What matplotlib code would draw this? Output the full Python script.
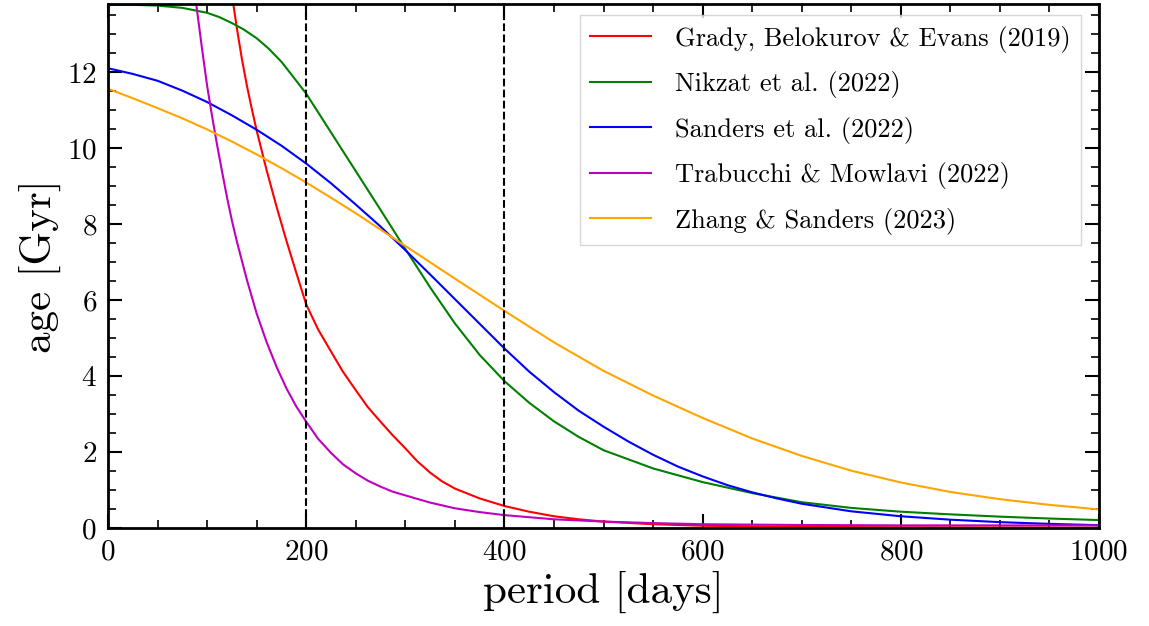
import matplotlib
matplotlib.use("Agg")
import matplotlib.pyplot as plt
from matplotlib.ticker import MultipleLocator

plt.rcParams["font.family"] = "serif"
plt.rcParams["font.serif"] = ["cmr10"]
plt.rcParams["mathtext.fontset"] = "cm"
plt.rcParams["axes.formatter.use_mathtext"] = True

# values (period in days, age in Gyr)
grady_period = [120, 125, 130, 135, 140, 145, 150, 160, 170, 180, 190, 200, 212, 225, 237,
                250, 262, 275, 287, 300, 312, 325, 337, 350, 375, 400, 425, 450, 475, 500,
                550, 600, 700, 800, 1000]
grady_age = [15.0, 14.05, 13.17, 12.37, 11.67, 11.05, 10.47, 9.43, 8.47, 7.57, 6.72, 5.89, 5.23,
             4.65, 4.12, 3.63, 3.19, 2.80, 2.45, 2.10, 1.76, 1.46, 1.23, 1.04, 0.78, 0.58, 0.43,
             0.31, 0.23, 0.17, 0.10, 0.06, 0.03, 0.02, 0.01]

nikzat_period = [0, 25, 50, 75, 100, 112, 125, 137, 150, 162, 175, 187, 200, 225, 250, 275,
                 300, 325, 350, 375, 400, 425, 450, 475, 500, 550, 600, 650, 700, 750, 800,
                 850, 900, 950, 1000]
nikzat_age = [13.78, 13.78, 13.76, 13.70, 13.57, 13.46, 13.30, 13.13, 12.90, 12.63, 12.28, 11.88,
              11.44, 10.42, 9.40, 8.38, 7.35, 6.34, 5.39, 4.56, 3.87, 3.30, 2.81, 2.40, 2.05,
              1.57, 1.21, 0.92, 0.68, 0.53, 0.43, 0.36, 0.30, 0.25, 0.21]

sanders_period = [0, 25, 50, 75, 100, 125, 150, 175, 200, 225, 250, 275, 300, 325, 350, 375,
                  400, 425, 450, 475, 500, 525, 550, 575, 600, 625, 650, 675, 700, 750, 800,
                  850, 900, 950, 1000]
sanders_age = [12.11, 11.96, 11.78, 11.52, 11.22, 10.87, 10.49, 10.07, 9.60, 9.08, 8.52, 7.94,
               7.32, 6.68, 6.03, 5.38, 4.73, 4.12, 3.58, 3.09, 2.67, 2.28, 1.93, 1.62, 1.36,
               1.13, 0.94, 0.78, 0.64, 0.44, 0.31, 0.22, 0.155, 0.11, 0.075]

trabucchi_period = [80, 85, 90, 95, 100, 105, 110, 115, 120, 125, 130, 140, 150, 160, 170, 180,
                    190, 200, 212, 225, 237, 250, 262, 275, 287, 300, 325, 350, 375, 400, 450,
                    500, 550, 600, 700, 800, 1000]
trabucchi_age = [15.6, 14.6, 13.6, 12.6, 11.65, 10.85, 10.1, 9.4, 8.72, 8.1, 7.55, 6.55, 5.65,
                 4.90, 4.25, 3.68, 3.20, 2.80, 2.35, 1.98, 1.68, 1.44, 1.25, 1.09, 0.96, 0.86,
                 0.67, 0.52, 0.42, 0.34, 0.23, 0.17, 0.13, 0.10, 0.08, 0.07, 0.07]

zhang_period = [0, 25, 50, 75, 100, 125, 150, 175, 200, 225, 250, 275, 300, 350, 400, 450,
                500, 550, 600, 650, 700, 750, 800, 850, 900, 950, 1000]
zhang_age = [11.57, 11.32, 11.06, 10.79, 10.50, 10.18, 9.84, 9.48, 9.10, 8.70, 8.29, 7.86, 7.43,
             6.57, 5.72, 4.89, 4.14, 3.49, 2.90, 2.36, 1.90, 1.51, 1.20, 0.95, 0.76, 0.61, 0.49]

vlines = [200, 400]

fig = plt.figure(figsize=(11.49, 6.26), dpi=100)
ax = fig.add_axes([0.094, 0.1565, 0.8625, 0.837])

ax.plot(grady_period, grady_age, color="red", lw=1.5, label="Grady, Belokurov & Evans (2019)")
ax.plot(nikzat_period, nikzat_age, color="green", lw=1.5, label="Nikzat et al. (2022)")
ax.plot(sanders_period, sanders_age, color="blue", lw=1.5, label="Sanders et al. (2022)")
ax.plot(trabucchi_period, trabucchi_age, color="m", lw=1.5, label="Trabucchi & Mowlavi (2022)")
ax.plot(zhang_period, zhang_age, color="orange", lw=1.5, label="Zhang & Sanders (2023)")
for v in vlines:
    ax.axvline(v, color="k", ls="--", lw=1.5)

ax.set_xlim(0, 1000)
ax.set_ylim(0, 13.8)
ax.set_xlabel("period [days]", fontsize=31, labelpad=4)
ax.set_ylabel("age [Gyr]", fontsize=31)

ax.xaxis.set_major_locator(MultipleLocator(200))
ax.xaxis.set_minor_locator(MultipleLocator(50))
ax.yaxis.set_major_locator(MultipleLocator(2))
ax.yaxis.set_minor_locator(MultipleLocator(0.5))
ax.tick_params(which="both", direction="in", top=True, right=True, labelsize=21)
ax.tick_params(which="major", length=10, width=1.5, pad=8)
ax.tick_params(which="minor", length=6, width=1.2)
for s in ax.spines.values():
    s.set_linewidth(2)

ax.legend(loc="upper right", bbox_to_anchor=(0.982, 0.979), borderaxespad=0, fontsize=19,
          fancybox=False, handlelength=2.3, handletextpad=0.9, labelspacing=0.7)

plt.savefig("out.png", dpi=100)
